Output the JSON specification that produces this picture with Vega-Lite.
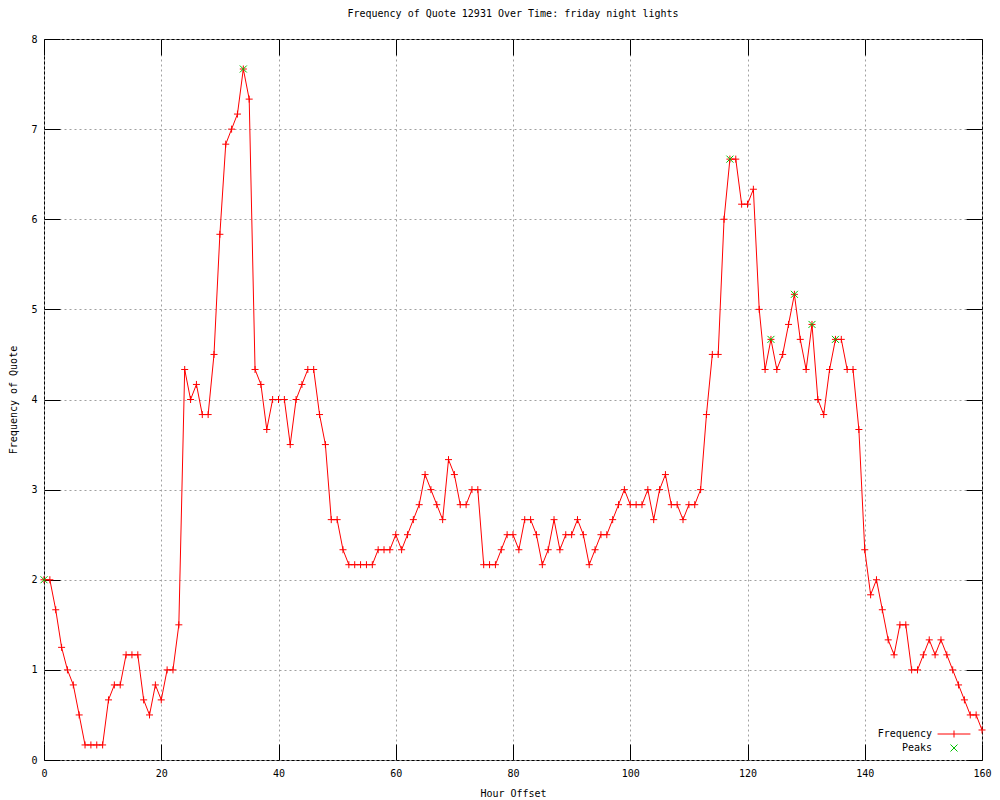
{
  "$schema": "https://vega.github.io/schema/vega-lite/v6.json",
  "width": 938,
  "height": 721,
  "autosize": {"type": "none"},
  "padding": {"left": 44, "top": 39, "right": 18, "bottom": 40},
  "background": "white",
  "config": {
    "font": "DejaVu Sans Mono",
    "view": {"stroke": "#000000", "strokeWidth": 1},
    "axis": {
      "domain": false,
      "labelFont": "DejaVu Sans Mono",
      "labelFontSize": 10,
      "labelColor": "#000000",
      "titleFont": "DejaVu Sans Mono",
      "titleFontSize": 10,
      "titleFontWeight": "normal",
      "titleColor": "#000000",
      "tickColor": "#000000",
      "tickSize": -16,
      "tickWidth": 1,
      "gridColor": "#a0a0a0",
      "gridDash": [2, 3],
      "gridWidth": 1,
      "gridOpacity": 1
    },
    "legend": {
      "labelFont": "DejaVu Sans Mono",
      "labelFontSize": 10,
      "labelColor": "#000000"
    }
  },
  "title": {
    "text": "Frequency of Quote 12931 Over Time: friday night lights",
    "font": "DejaVu Sans Mono",
    "fontSize": 10,
    "fontWeight": "normal",
    "color": "#000000",
    "offset": 15,
    "anchor": "middle"
  },
  "datasets": {
    "freq": [
      {"hour": 0, "freq": 2.0}, {"hour": 1, "freq": 2.0}, {"hour": 2, "freq": 1.667}, {"hour": 3, "freq": 1.25},
      {"hour": 4, "freq": 1.0}, {"hour": 5, "freq": 0.833}, {"hour": 6, "freq": 0.5}, {"hour": 7, "freq": 0.167},
      {"hour": 8, "freq": 0.167}, {"hour": 9, "freq": 0.167}, {"hour": 10, "freq": 0.167}, {"hour": 11, "freq": 0.667},
      {"hour": 12, "freq": 0.833}, {"hour": 13, "freq": 0.833}, {"hour": 14, "freq": 1.167}, {"hour": 15, "freq": 1.167},
      {"hour": 16, "freq": 1.167}, {"hour": 17, "freq": 0.667}, {"hour": 18, "freq": 0.5}, {"hour": 19, "freq": 0.833},
      {"hour": 20, "freq": 0.667}, {"hour": 21, "freq": 1.0}, {"hour": 22, "freq": 1.0}, {"hour": 23, "freq": 1.5},
      {"hour": 24, "freq": 4.333}, {"hour": 25, "freq": 4.0}, {"hour": 26, "freq": 4.167}, {"hour": 27, "freq": 3.833},
      {"hour": 28, "freq": 3.833}, {"hour": 29, "freq": 4.5}, {"hour": 30, "freq": 5.833}, {"hour": 31, "freq": 6.833},
      {"hour": 32, "freq": 7.0}, {"hour": 33, "freq": 7.167}, {"hour": 34, "freq": 7.667}, {"hour": 35, "freq": 7.333},
      {"hour": 36, "freq": 4.333}, {"hour": 37, "freq": 4.167}, {"hour": 38, "freq": 3.667}, {"hour": 39, "freq": 4.0},
      {"hour": 40, "freq": 4.0}, {"hour": 41, "freq": 4.0}, {"hour": 42, "freq": 3.5}, {"hour": 43, "freq": 4.0},
      {"hour": 44, "freq": 4.167}, {"hour": 45, "freq": 4.333}, {"hour": 46, "freq": 4.333}, {"hour": 47, "freq": 3.833},
      {"hour": 48, "freq": 3.5}, {"hour": 49, "freq": 2.667}, {"hour": 50, "freq": 2.667}, {"hour": 51, "freq": 2.333},
      {"hour": 52, "freq": 2.167}, {"hour": 53, "freq": 2.167}, {"hour": 54, "freq": 2.167}, {"hour": 55, "freq": 2.167},
      {"hour": 56, "freq": 2.167}, {"hour": 57, "freq": 2.333}, {"hour": 58, "freq": 2.333}, {"hour": 59, "freq": 2.333},
      {"hour": 60, "freq": 2.5}, {"hour": 61, "freq": 2.333}, {"hour": 62, "freq": 2.5}, {"hour": 63, "freq": 2.667},
      {"hour": 64, "freq": 2.833}, {"hour": 65, "freq": 3.167}, {"hour": 66, "freq": 3.0}, {"hour": 67, "freq": 2.833},
      {"hour": 68, "freq": 2.667}, {"hour": 69, "freq": 3.333}, {"hour": 70, "freq": 3.167}, {"hour": 71, "freq": 2.833},
      {"hour": 72, "freq": 2.833}, {"hour": 73, "freq": 3.0}, {"hour": 74, "freq": 3.0}, {"hour": 75, "freq": 2.167},
      {"hour": 76, "freq": 2.167}, {"hour": 77, "freq": 2.167}, {"hour": 78, "freq": 2.333}, {"hour": 79, "freq": 2.5},
      {"hour": 80, "freq": 2.5}, {"hour": 81, "freq": 2.333}, {"hour": 82, "freq": 2.667}, {"hour": 83, "freq": 2.667},
      {"hour": 84, "freq": 2.5}, {"hour": 85, "freq": 2.167}, {"hour": 86, "freq": 2.333}, {"hour": 87, "freq": 2.667},
      {"hour": 88, "freq": 2.333}, {"hour": 89, "freq": 2.5}, {"hour": 90, "freq": 2.5}, {"hour": 91, "freq": 2.667},
      {"hour": 92, "freq": 2.5}, {"hour": 93, "freq": 2.167}, {"hour": 94, "freq": 2.333}, {"hour": 95, "freq": 2.5},
      {"hour": 96, "freq": 2.5}, {"hour": 97, "freq": 2.667}, {"hour": 98, "freq": 2.833}, {"hour": 99, "freq": 3.0},
      {"hour": 100, "freq": 2.833}, {"hour": 101, "freq": 2.833}, {"hour": 102, "freq": 2.833}, {"hour": 103, "freq": 3.0},
      {"hour": 104, "freq": 2.667}, {"hour": 105, "freq": 3.0}, {"hour": 106, "freq": 3.167}, {"hour": 107, "freq": 2.833},
      {"hour": 108, "freq": 2.833}, {"hour": 109, "freq": 2.667}, {"hour": 110, "freq": 2.833}, {"hour": 111, "freq": 2.833},
      {"hour": 112, "freq": 3.0}, {"hour": 113, "freq": 3.833}, {"hour": 114, "freq": 4.5}, {"hour": 115, "freq": 4.5},
      {"hour": 116, "freq": 6.0}, {"hour": 117, "freq": 6.667}, {"hour": 118, "freq": 6.667}, {"hour": 119, "freq": 6.167},
      {"hour": 120, "freq": 6.167}, {"hour": 121, "freq": 6.333}, {"hour": 122, "freq": 5.0}, {"hour": 123, "freq": 4.333},
      {"hour": 124, "freq": 4.667}, {"hour": 125, "freq": 4.333}, {"hour": 126, "freq": 4.5}, {"hour": 127, "freq": 4.833},
      {"hour": 128, "freq": 5.167}, {"hour": 129, "freq": 4.667}, {"hour": 130, "freq": 4.333}, {"hour": 131, "freq": 4.833},
      {"hour": 132, "freq": 4.0}, {"hour": 133, "freq": 3.833}, {"hour": 134, "freq": 4.333}, {"hour": 135, "freq": 4.667},
      {"hour": 136, "freq": 4.667}, {"hour": 137, "freq": 4.333}, {"hour": 138, "freq": 4.333}, {"hour": 139, "freq": 3.667},
      {"hour": 140, "freq": 2.333}, {"hour": 141, "freq": 1.833}, {"hour": 142, "freq": 2.0}, {"hour": 143, "freq": 1.667},
      {"hour": 144, "freq": 1.333}, {"hour": 145, "freq": 1.167}, {"hour": 146, "freq": 1.5}, {"hour": 147, "freq": 1.5},
      {"hour": 148, "freq": 1.0}, {"hour": 149, "freq": 1.0}, {"hour": 150, "freq": 1.167}, {"hour": 151, "freq": 1.333},
      {"hour": 152, "freq": 1.167}, {"hour": 153, "freq": 1.333}, {"hour": 154, "freq": 1.167}, {"hour": 155, "freq": 1.0},
      {"hour": 156, "freq": 0.833}, {"hour": 157, "freq": 0.667}, {"hour": 158, "freq": 0.5}, {"hour": 159, "freq": 0.5},
      {"hour": 160, "freq": 0.333}
    ],
    "peaks": [
      {"hour": 0, "freq": 2.0}, {"hour": 34, "freq": 7.667}, {"hour": 117, "freq": 6.667}, {"hour": 124, "freq": 4.667},
      {"hour": 128, "freq": 5.167}, {"hour": 131, "freq": 4.833}, {"hour": 135, "freq": 4.667}
    ]
  },
  "layer": [
    {
      "data": {"name": "freq"},
      "mark": {"type": "line", "strokeWidth": 1, "interpolate": "linear"},
      "encoding": {
        "x": {
          "field": "hour", "type": "quantitative",
          "scale": {"domain": [0, 160], "nice": false, "zero": false},
          "axis": {"orient": "bottom", "values": [0, 20, 40, 60, 80, 100, 120, 140, 160], "title": "Hour Offset", "grid": true, "labelPadding": 24, "titlePadding": 10, "labelFlush": false}
        },
        "y": {
          "field": "freq", "type": "quantitative",
          "scale": {"domain": [0, 8], "nice": false, "zero": false},
          "axis": {"orient": "left", "values": [0, 1, 2, 3, 4, 5, 6, 7, 8], "title": "Frequency of Quote", "grid": true, "labelPadding": 23, "titlePadding": 12, "labelFlush": false}
        },
        "color": {
          "datum": "Frequency", "type": "nominal",
          "scale": {"domain": ["Frequency", "Peaks"], "range": ["#ff0000", "#00c000"]},
          "legend": {
            "title": null,
            "orient": "none",
            "legendX": 905,
            "legendY": 690,
            "padding": 0,
            "symbolSize": 49,
            "symbolStrokeWidth": 1,
            "symbolType": "M-4.7,0H4.7M0,-1V1",
            "labelAlign": "right",
            "labelOffset": -27,
            "rowPadding": 2,
            "encode": {
              "symbols": {
                "update": {
                  "shape": {"signal": "datum.value === 'Peaks' ? 'M-1,-1L1,1M-1,1L1,-1' : 'M-4.7,0H4.7M0,-1V1'"},
                  "fill": {"value": "transparent"}
                }
              }
            }
          }
        }
      }
    },
    {
      "data": {"name": "freq"},
      "mark": {"type": "point", "shape": "M-1,0H1M0,-1V1", "size": 49, "filled": false, "strokeWidth": 1, "opacity": 1},
      "encoding": {
        "x": {"field": "hour", "type": "quantitative", "axis": {"orient": "top", "values": [0, 20, 40, 60, 80, 100, 120, 140, 160], "labels": false, "title": null, "grid": false}},
        "y": {"field": "freq", "type": "quantitative", "axis": {"orient": "right", "values": [0, 1, 2, 3, 4, 5, 6, 7, 8], "labels": false, "title": null, "grid": false}},
        "color": {"datum": "Frequency", "type": "nominal"}
      }
    },
    {
      "data": {"name": "peaks"},
      "mark": {"type": "point", "shape": "M-1,-1L1,1M-1,1L1,-1", "size": 49, "filled": false, "strokeWidth": 1, "opacity": 1},
      "encoding": {
        "x": {"field": "hour", "type": "quantitative", "axis": null},
        "y": {"field": "freq", "type": "quantitative", "axis": null},
        "color": {"datum": "Peaks", "type": "nominal"}
      }
    }
  ],
  "resolve": {"axis": {"x": "independent", "y": "independent"}}
}
